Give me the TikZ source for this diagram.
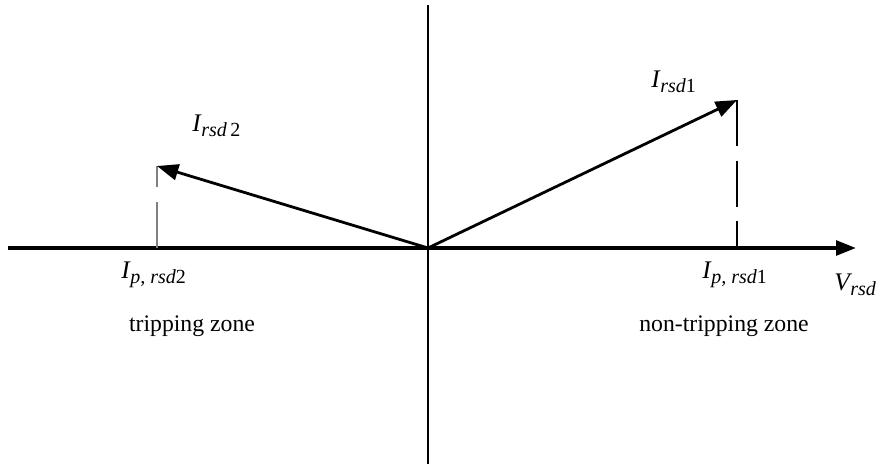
\documentclass[tikz,border=0pt]{standalone}
\usepackage{fontspec}
\setmainfont{Liberation Serif}
\usetikzlibrary{arrows.meta}
\newcommand{\vlab}[3]{{\itshape #1}\kern0.5pt\raisebox{-0.45ex}{\fontsize{15}{16}\selectfont\itshape #2\upshape #3}}
\begin{document}
\begin{tikzpicture}[x=0.75pt,y=-0.75pt,
  axis/.style={line width=2.8pt},
  axisthin/.style={line width=2.4pt},
  vec/.style={line width=2.1pt,-{Triangle[length=16pt,width=12pt]}},
  lbl/.style={inner sep=0pt,font=\fontsize{19}{22}\selectfont},
  zone/.style={inner sep=0pt,font=\fontsize{17.8}{20}\selectfont}]
\useasboundingbox (0,0) rectangle (880,464);
% coordinates
\coordinate (O) at (428,248);
\coordinate (L) at (8,248);
\coordinate (L1) at (110,248);
\coordinate (L2) at (230,248);
\coordinate (R1) at (685,248);
\coordinate (R2) at (805,248);
\coordinate (R) at (856,248);
\coordinate (T) at (428,5);
\coordinate (B) at (428,464);
\coordinate (P2) at (157,166);
\coordinate (P1) at (737,100);
\coordinate (P2b) at (157,248);
\coordinate (P1b) at (737,248);
% axes
\draw[axis] (L) -- (L1);
\draw[axisthin] (L1) -- (L2);
\draw[axis] (L2) -- (R1);
\draw[axisthin] (R1) -- (R2);
\draw[axis,-{Triangle[length=15pt,width=11pt]}] (R2) -- (R);
\draw[line width=1.9pt] (T) -- (B);
% dashed projections
\draw[gray,line width=1.4pt,dash pattern=on 34.5pt off 11pt] (P2b) -- (P2);
\draw[black,line width=0.8pt,dash pattern=on 34.5pt off 11pt] (P1) -- (P1b);
% vectors
\draw[vec] (O) -- (P2);
\draw[vec] (O) -- (P1);
% labels
\node[lbl,anchor=base west] (i2) at (192,131) {\vlab{I}{rsd\,}{2}};
\node[lbl,anchor=base west] (i1) at (651,87) {\vlab{I}{rsd}{1}};
\node[lbl,anchor=base west] (ip2) at (121,278) {\vlab{I}{p, rsd}{2}};
\node[lbl,anchor=base west] (ip1) at (702,278) {\vlab{I}{p, rsd}{1}};
\node[lbl,anchor=base west] (v) at (834,290) {\vlab{V}{rsd}{}};
\node[zone] (tz) at (192,326) {tripping zone};
\node[zone] (ntz) at (724,326) {non-tripping zone};
\end{tikzpicture}
\end{document}
